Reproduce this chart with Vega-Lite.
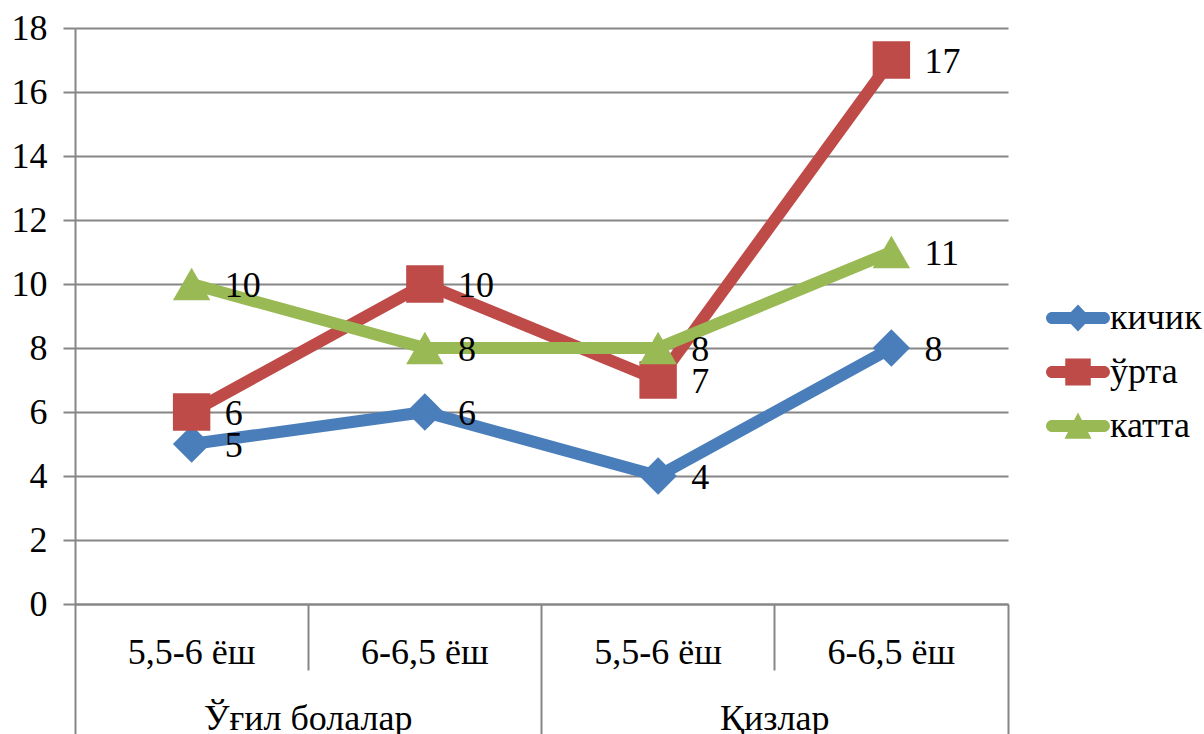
{
  "$schema": "https://vega.github.io/schema/vega-lite/v6.json",
  "width": 933,
  "height": 576,
  "autosize": {"type": "none"},
  "padding": {"left": 75, "top": 28, "right": 196, "bottom": 130},
  "background": "white",
  "config": {"view": {"stroke": null}, "font": "Liberation Serif"},
  "data": {"values": [
    {"cat": "Ўғил болалар|5,5-6 ёш", "series": "кичик", "value": 5},
    {"cat": "Ўғил болалар|6-6,5 ёш", "series": "кичик", "value": 6},
    {"cat": "Қизлар|5,5-6 ёш", "series": "кичик", "value": 4},
    {"cat": "Қизлар|6-6,5 ёш", "series": "кичик", "value": 8},
    {"cat": "Ўғил болалар|5,5-6 ёш", "series": "ўрта", "value": 6},
    {"cat": "Ўғил болалар|6-6,5 ёш", "series": "ўрта", "value": 10},
    {"cat": "Қизлар|5,5-6 ёш", "series": "ўрта", "value": 7},
    {"cat": "Қизлар|6-6,5 ёш", "series": "ўрта", "value": 17},
    {"cat": "Ўғил болалар|5,5-6 ёш", "series": "катта", "value": 10},
    {"cat": "Ўғил болалар|6-6,5 ёш", "series": "катта", "value": 8},
    {"cat": "Қизлар|5,5-6 ёш", "series": "катта", "value": 8},
    {"cat": "Қизлар|6-6,5 ёш", "series": "катта", "value": 11}
  ]},
  "resolve": {"axis": {"x": "independent"}, "scale": {"shape": "independent"}, "legend": {"color": "independent", "shape": "independent"}},
  "layer": [
    {
      "mark": {"type": "line", "strokeWidth": 12, "strokeJoin": "round"},
      "encoding": {
        "x": {"field": "cat", "type": "ordinal",
          "scale": {"type": "band", "paddingInner": 0, "paddingOuter": 0, "domain": ["Ўғил болалар|5,5-6 ёш", "Ўғил болалар|6-6,5 ёш", "Қизлар|5,5-6 ёш", "Қизлар|6-6,5 ёш"]},
          "axis": {"orient": "bottom", "offset": 0, "title": null, "ticks": false, "tickSize": 0, "grid": false, "domain": true, "domainColor": "#868686", "domainWidth": 2, "labelExpr": "split(datum.value, '|')[1]", "labelFont": "Liberation Serif", "labelFontSize": 36, "labelColor": "black", "labelAngle": 0, "labelBaseline": "middle", "labelPadding": 48}},
        "y": {"field": "value", "type": "quantitative",
          "scale": {"domain": [0, 18], "nice": false, "zero": true},
          "axis": {"title": null, "values": [0, 2, 4, 6, 8, 10, 12, 14, 16, 18], "grid": true, "gridColor": "#868686", "gridWidth": 2, "tickSize": 12, "tickColor": "#868686", "tickWidth": 2, "domainColor": "#868686", "domainWidth": 2, "labelFont": "Liberation Serif", "labelFontSize": 36, "labelColor": "black", "labelPadding": 16}},
        "color": {"field": "series", "type": "nominal",
          "scale": {"domain": ["кичик", "ўрта", "катта"], "range": ["#4A7EBB", "#BE4B48", "#98B954"]},
          "legend": null}
      }
    },
    {
      "mark": {"type": "point", "filled": true, "size": 1400, "opacity": 1},
      "encoding": {
        "x": {"field": "cat", "type": "ordinal",
          "axis": {"orient": "bottom", "offset": 0, "title": null, "values": ["Ўғил болалар|6-6,5 ёш", "Қизлар|6-6,5 ёш"], "bandPosition": 0, "ticks": true, "tickSize": 66, "tickColor": "#868686", "tickWidth": 2, "labels": false, "domain": false, "grid": false}},
        "y": {"field": "value", "type": "quantitative"},
        "color": {"field": "series", "type": "nominal", "legend": null},
        "shape": {"field": "series", "type": "nominal",
          "scale": {"domain": ["кичик", "ўрта", "катта"], "range": ["diamond", "square", "triangle-up"]},
          "legend": null}
      }
    },
    {
      "mark": {"type": "text", "align": "left", "baseline": "middle", "dx": 33, "dy": 2, "font": "Liberation Serif", "fontSize": 36, "color": "black"},
      "encoding": {
        "x": {"field": "cat", "type": "ordinal",
          "axis": {"orient": "bottom", "offset": 0, "title": null, "values": ["Ўғил болалар|5,5-6 ёш", "Қизлар|5,5-6 ёш"], "ticks": false, "tickSize": 0, "domain": false, "grid": false, "labelExpr": "split(datum.value, '|')[0]", "labelOffset": 116.6, "labelLimit": 500, "labelFont": "Liberation Serif", "labelFontSize": 36, "labelColor": "black", "labelAngle": 0, "labelAlign": "center", "labelBaseline": "middle", "labelPadding": 114}},
        "y": {"field": "value", "type": "quantitative"},
        "text": {"field": "value", "type": "quantitative"}
      }
    },
    {
      "mark": {"type": "point", "opacity": 0},
      "encoding": {
        "x": {"field": "cat", "type": "ordinal",
          "axis": {"orient": "bottom", "offset": 0, "title": null, "values": ["Ўғил болалар|5,5-6 ёш", "Қизлар|5,5-6 ёш"], "bandPosition": 0, "ticks": true, "tickSize": 130, "tickColor": "#868686", "tickWidth": 2, "labels": false, "domain": false, "grid": false}},
        "y": {"field": "value", "type": "quantitative"}
      }
    },
    {
      "mark": {"type": "point", "opacity": 0},
      "encoding": {
        "x": {"field": "cat", "type": "ordinal",
          "axis": {"orient": "bottom", "offset": 0, "title": null, "values": ["Қизлар|6-6,5 ёш"], "bandPosition": 1, "ticks": true, "tickSize": 130, "tickColor": "#868686", "tickWidth": 2, "labels": false, "domain": false, "grid": false}},
        "y": {"field": "value", "type": "quantitative"}
      }
    },
    {
      "transform": [{"filter": "datum.value < 0"}],
      "mark": {"type": "point", "filled": true, "opacity": 1},
      "encoding": {
        "color": {"field": "series", "type": "nominal",
          "legend": {"orient": "none", "legendX": 985, "legendY": 272, "title": null, "padding": 0, "labelFont": "Liberation Serif", "labelFontSize": 36, "labelColor": "black", "symbolSize": 900, "labelOffset": 14, "rowPadding": 18}},
        "shape": {"field": "series", "type": "nominal",
          "scale": {"domain": ["кичик", "ўрта", "катта"], "range": [
            "M-1.73,-0.4H1.73A0.4,0.4 0 0 1 1.73,0.4H-1.73A0.4,0.4 0 0 1 -1.73,-0.4Z M0,-0.9L0.85,0L0,0.9L-0.85,0Z",
            "M-1.73,-0.4H1.73A0.4,0.4 0 0 1 1.73,0.4H-1.73A0.4,0.4 0 0 1 -1.73,-0.4Z M-0.85,-0.9H0.85V0.9H-0.85Z",
            "M-1.73,-0.4H1.73A0.4,0.4 0 0 1 1.73,0.4H-1.73A0.4,0.4 0 0 1 -1.73,-0.4Z M0,-0.9L0.9,0.85H-0.9Z"]},
          "legend": {"orient": "none", "legendX": 985, "legendY": 272, "title": null, "padding": 0, "labelFont": "Liberation Serif", "labelFontSize": 36, "labelColor": "black", "symbolSize": 900, "labelOffset": 14, "rowPadding": 18}}
      }
    }
  ]
}
